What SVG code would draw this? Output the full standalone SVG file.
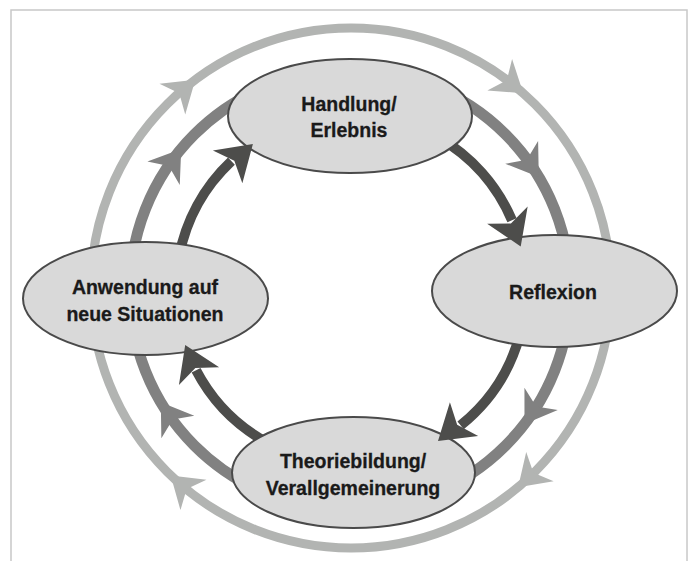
<svg xmlns="http://www.w3.org/2000/svg" width="691" height="561" viewBox="0 0 691 561">
  <style>
    .frame { fill: none; stroke: #c8c8c8; stroke-width: 1.5; }
    .ring-outer { fill: none; stroke: #b2b4b2; stroke-width: 9; }
    .ring-mid { fill: none; stroke: #818181; stroke-width: 11; }
    .head-outer { fill: #b2b4b2; }
    .head-mid { fill: #818181; }
    .shaft { fill: none; stroke: #4d4d4b; stroke-width: 10; }
    .head-dark { fill: #4d4d4b; }
    .node { fill: #d9d9d9; stroke: #4a4a4a; stroke-width: 2; }
    .label { font-family: "Liberation Sans", Arial, sans-serif; font-weight: bold; font-size: 19.5px; fill: #1a1a1a; stroke: #1a1a1a; stroke-width: 0.3; text-anchor: middle; }
  </style>
  <defs>
    <path id="ah" d="M0,0 L-30,-20 L-21,0 L-30,20 Z"/>
    <path id="ahd" d="M0,0 L-34,-22 L-25,0 L-34,22 Z"/>
  </defs>

  <rect class="frame" x="11" y="10" width="676" height="570"/>

  <g id="connectors">
    <g id="outer-ring">
      <circle class="ring-outer" cx="351" cy="288" r="260"/>
      <use href="#ah" class="head-outer" transform="translate(195.3,79.8) rotate(-40.1)"/>
      <use href="#ah" class="head-outer" transform="translate(523.3,93.3) rotate(38.2)"/>
      <use href="#ah" class="head-outer" transform="translate(518.1,487.2) rotate(136.7)"/>
      <use href="#ah" class="head-outer" transform="translate(170.7,475.4) rotate(220.6)"/>
    </g>
    <g id="middle-ring">
      <circle class="ring-mid" cx="350" cy="290" r="220"/>
      <use href="#ah" class="head-mid" transform="translate(181.2,148.9) rotate(-54)"/>
      <use href="#ah" class="head-mid" transform="translate(538.8,177) rotate(55.2)"/>
      <use href="#ah" class="head-mid" transform="translate(524.5,423.9) rotate(123.6)"/>
      <use href="#ah" class="head-mid" transform="translate(160.8,402.3) rotate(235.4)"/>
    </g>
    <g id="inner-shafts">
      <path class="shaft" d="M438.5,137.45 A175,175 0 0 1 512,220.3"/>
      <path class="shaft" d="M520,334.3 A175,175 0 0 1 460.6,425.4"/>
      <path class="shaft" d="M268.8,443.5 A175,175 0 0 1 196.1,370.3"/>
      <path class="shaft" d="M178.7,258.6 A175,175 0 0 1 231.4,161.2"/>
    </g>
  </g>

  <g id="node-handlung">
    <ellipse class="node" cx="350" cy="116" rx="122" ry="57"/>
    <text class="label" x="349" y="111">Handlung/</text>
    <text class="label" x="349" y="137">Erlebnis</text>
  </g>
  <g id="node-reflexion">
    <ellipse class="node" cx="554.5" cy="291" rx="122.5" ry="56"/>
    <text class="label" x="553" y="299">Reflexion</text>
  </g>
  <g id="node-theoriebildung">
    <ellipse class="node" cx="353.5" cy="472.5" rx="121.5" ry="55.5"/>
    <text class="label" x="353" y="468">Theoriebildung/</text>
    <text class="label" x="353" y="495">Verallgemeinerung</text>
  </g>
  <g id="node-anwendung">
    <ellipse class="node" cx="145.5" cy="298.5" rx="122.5" ry="56.5"/>
    <text class="label" x="145" y="294">Anwendung auf</text>
    <text class="label" x="145" y="321">neue Situationen</text>
  </g>

  <g id="connector-heads">
    <use href="#ahd" class="head-dark" transform="translate(520.7,246.4) rotate(67)"/>
    <use href="#ahd" class="head-dark" transform="translate(438,440.9) rotate(140)"/>
    <use href="#ahd" class="head-dark" transform="translate(185.2,345.1) rotate(246)"/>
    <use href="#ahd" class="head-dark" transform="translate(252.9,144.1) rotate(-42)"/>
  </g>
</svg>
